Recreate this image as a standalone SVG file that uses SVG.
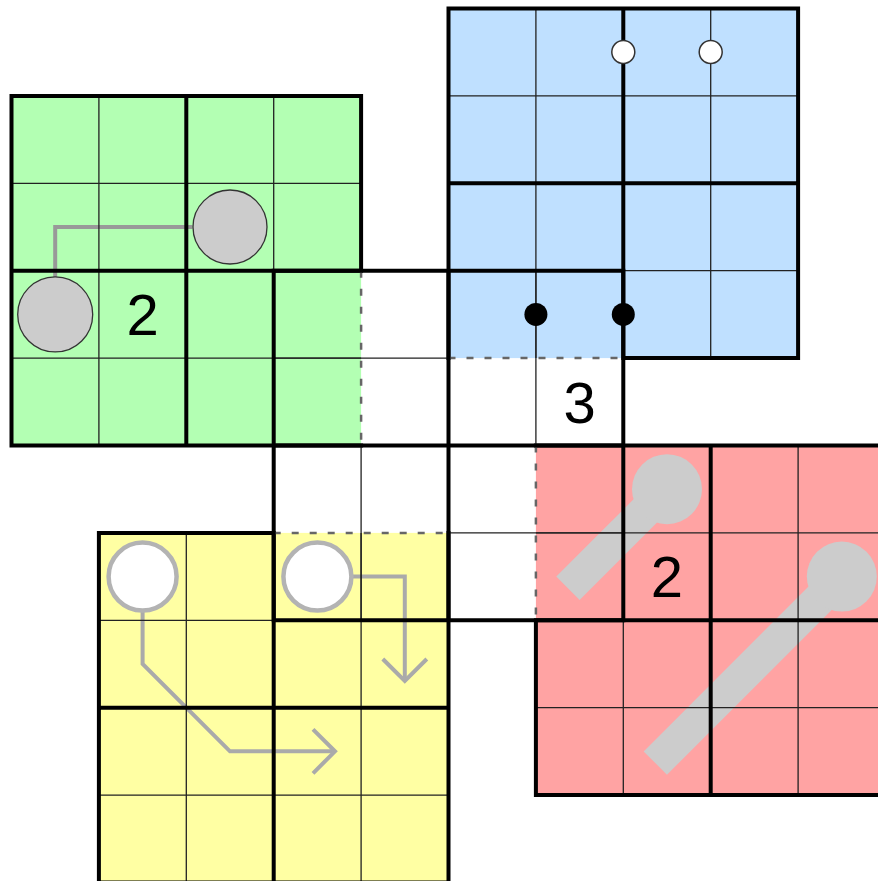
<svg xmlns="http://www.w3.org/2000/svg" width="878" height="881" viewBox="0 0 878 881">
<style>
.thin{stroke:#222;stroke-width:1.3;fill:none}
.thick{stroke:#000;stroke-width:4;fill:none;stroke-linecap:square}
.dash{stroke:#666;stroke-width:2.5;stroke-dasharray:7 11;fill:none}
.num{font-family:"Liberation Sans",Arial,sans-serif;font-size:58px;fill:#000;text-anchor:middle}
.bar{stroke:#ccc;stroke-width:33;stroke-linecap:square}
.conn{fill:none;stroke-width:4}
</style>
<rect width="878" height="881" fill="#fff"/>
<!-- region fills -->
<g id="fills">
<rect id="green-fill" x="11.5" y="95.9" width="349.6" height="349.6" fill="#b3ffb3"/>
<rect id="blue-fill" x="448.5" y="8.5" width="349.6" height="349.6" fill="#bfe0ff"/>
<rect id="red-fill" x="535.9" y="445.5" width="349.6" height="349.6" fill="#ffa3a3"/>
<rect id="yellow-fill" x="98.9" y="532.9" width="349.6" height="349.6" fill="#ffffa3"/>
</g>
<!-- connectors / path marks -->
<g id="connectors">
<line class="bar" x1="667" y1="489.2" x2="579.6" y2="576.6"/>
<circle cx="667" cy="489.2" r="35" fill="#ccc"/>
<line class="bar" x1="841.8" y1="576.6" x2="667" y2="751.4"/>
<circle cx="841.8" cy="576.6" r="35" fill="#ccc"/>
<path class="conn" stroke="#999" d="M192.5 227H55.2V277"/>
<path class="conn" stroke="#aaa" d="M142.6 610.6V663.9L230 751.3H334"/>
<path class="conn" stroke="#aaa" d="M313 729.3L335 751.3L313 773.3"/>
<path class="conn" stroke="#aaa" d="M351.4 576.6H404.8V680"/>
<path class="conn" stroke="#aaa" d="M382.8 659L404.8 681L426.8 659"/>
</g>
<!-- grid lines -->
<g id="green-grid">
<path class="thin" d="M98.9 95.9V445.5M273.7 95.9V270.7M11.5 183.3H361.1M11.5 358.1H361.1"/>
<path class="thick" d="M11.5 95.9H361.1V270.7M11.5 95.9V445.5H361.1M186.3 95.9V445.5M11.5 270.7H361.1"/>
<path class="dash" d="M361.1 270.7V445.5"/>
</g>
<g id="blue-grid">
<path class="thin" d="M535.9 8.5V358.1M710.7 8.5V358.1M448.5 95.9H798.1M623.3 270.7H798.1"/>
<path class="thick" d="M448.5 8.5H798.1V358.1H623.3M448.5 8.5V358.1M623.3 8.5V358.1M448.5 183.3H798.1"/>
<path class="dash" d="M448.5 358.1H623.3"/>
</g>
<g id="red-grid">
<path class="thin" d="M623.3 620.3V795.1M798.1 445.5V795.1M535.9 532.9H885.5M535.9 707.7H885.5"/>
<path class="thick" d="M535.9 445.5H885.5V795.1H535.9V620.3M710.7 445.5V795.1M535.9 620.3H885.5"/>
<path class="dash" d="M535.9 445.5V620.3"/>
</g>
<g id="yellow-grid">
<path class="thin" d="M186.3 532.9V882.5M361.1 532.9V882.5M98.9 620.3H273.7M98.9 795.1H448.5"/>
<path class="thick" d="M273.7 532.9H98.9V882.5H448.5V532.9M273.7 532.9V882.5M98.9 707.7H448.5"/>
<path class="dash" d="M273.7 532.9H448.5"/>
</g>
<g id="center-grid">
<path class="thin" d="M361.1 445.5V620.3M535.9 270.7V445.5M273.7 358.1H448.5M448.5 532.9H623.3"/>
<path class="thick" d="M273.7 270.7H623.3V620.3H273.7Z M448.5 270.7V620.3M273.7 445.5H623.3"/>
</g>
<!-- marks -->
<g id="green-marks">
<circle cx="55.2" cy="314.4" r="37.5" fill="#ccc" stroke="#333" stroke-width="1.3"/>
<circle cx="230" cy="227" r="37" fill="#ccc" stroke="#333" stroke-width="1.3"/>
<text class="num" x="142.6" y="335.2">2</text>
</g>
<g id="blue-marks">
<circle cx="623.3" cy="52" r="11.5" fill="#fff" stroke="#333" stroke-width="1.5"/>
<circle cx="710.7" cy="52" r="11.5" fill="#fff" stroke="#333" stroke-width="1.5"/>
<circle cx="535.9" cy="314.4" r="11.5" fill="#000"/>
<circle cx="623.3" cy="314.4" r="11.5" fill="#000"/>
</g>
<g id="center-marks">
<text class="num" x="579.6" y="422.6">3</text>
</g>
<g id="red-marks">
<text class="num" x="667" y="597.4">2</text>
</g>
<g id="yellow-marks">
<circle cx="142.6" cy="576.6" r="34" fill="#fff" stroke="#b3b3b3" stroke-width="4.5"/>
<circle cx="317.4" cy="576.6" r="34" fill="#fff" stroke="#b3b3b3" stroke-width="4.5"/>
</g>
</svg>
